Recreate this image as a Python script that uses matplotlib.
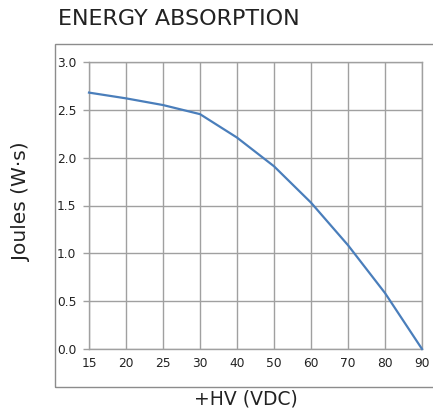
import matplotlib
matplotlib.use("Agg")
import matplotlib.pyplot as plt
from matplotlib.patches import Rectangle

# Energy absorption vs. high voltage
tensoes = ["15", "20", "25", "30", "40", "50", "60", "70", "80", "90"]
joules = [2.68, 2.62, 2.55, 2.455, 2.21, 1.91, 1.53, 1.085, 0.585, 0.0]
y_ticks = [0.0, 0.5, 1.0, 1.5, 2.0, 2.5, 3.0]

cor_grade = "#a0a0a0"
cor_linha = "#4a7ebb"

fig = plt.figure(figsize=(4.33, 4.12), dpi=100)
ax = fig.add_axes([89 / 433, 1 - 349 / 412, (422 - 89) / 433, (349 - 62) / 412])

pos = list(range(len(tensoes)))
ax.plot(pos, joules, color=cor_linha, linewidth=1.6, clip_on=False, zorder=3)

ax.set_xlim(0, len(tensoes) - 1)
ax.set_ylim(0, 3.0)
ax.set_xticks(pos)
ax.set_xticklabels(tensoes)
ax.set_yticks(y_ticks)
ax.set_yticklabels([f"{v:.1f}" for v in y_ticks])
ax.grid(True, color=cor_grade, linewidth=1.0)
ax.set_axisbelow(True)
for s in ax.spines.values():
    s.set_color(cor_grade)
    s.set_linewidth(1.0)
ax.tick_params(axis="x", length=0, pad=6, labelsize=8.8, labelcolor="#222222")
ax.tick_params(axis="y", length=4, width=1.0, color=cor_grade, pad=5,
               labelsize=8.8, labelcolor="#222222")

# outer frame around the chart
fig.patches.append(Rectangle((55 / 433, 1 - 387 / 412), 1.0, (387 - 44) / 412,
                             transform=fig.transFigure, fill=False,
                             edgecolor="#8c8c8c", linewidth=1.0))

fig.text(58 / 433, 1 - 19 / 412, "ENERGY ABSORPTION", fontsize=16,
         color="#222222", ha="left", va="center")
fig.text(246 / 433, 1 - 399 / 412, "+HV (VDC)", fontsize=13.5,
         color="#222222", ha="center", va="center")
fig.text(22 / 433, 1 - 202 / 412, "Joules (W·s)", fontsize=14.5,
         color="#222222", ha="center", va="center", rotation=90)

fig.savefig("out.png", dpi=100)
